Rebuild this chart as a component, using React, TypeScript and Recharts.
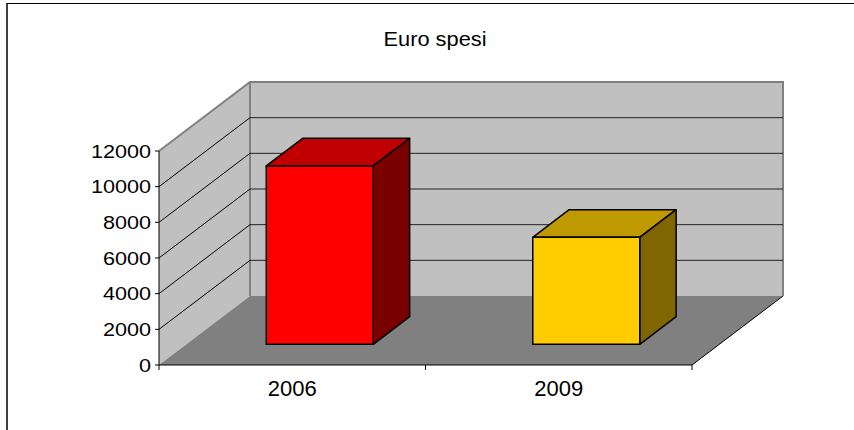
import React from 'react';
import { BarChart, Bar, XAxis, YAxis, ReferenceArea, ReferenceLine } from 'recharts';

const categories = ['2006', '2009'];
const spesi = [10000, 6000];
const yTicks = [0, 2000, 4000, 6000, 8000, 10000, 12000];
const gridValues = [2000, 4000, 6000, 8000, 10000];

const data = categories.map((anno, i) => ({ anno, spesi: spesi[i] }));

const FRONT = ['#FF0000', '#FFCC00'];
const TOP = ['#C00000', '#BF9900'];
const SIDE = ['#7A0000', '#806600'];

// depth of the 3D box (pixels)
const DX = 91;
const DY = 69;
const FONT = '"Liberation Sans", Arial, sans-serif';

const Walls = (props: any) => {
  const { x, y, width, height } = props;
  const bx = x + DX;
  const by = y - DY;
  const n = categories.length;
  return (
    <g>
      <polygon
        points={`${x},${y + height} ${x},${y} ${bx},${by} ${bx},${by + height}`}
        fill="#C0C0C0"
      />
      <rect x={bx} y={by} width={width} height={height} fill="#C0C0C0" />
      <polygon
        points={`${x},${y + height} ${x + width},${y + height} ${bx + width},${by + height} ${bx},${by + height}`}
        fill="#808080"
      />
      <polyline
        points={`${x},${y} ${bx},${by} ${bx + width},${by} ${bx + width},${by + height}`}
        fill="none"
        stroke="#808080"
        strokeWidth={2}
      />
      <line x1={bx} y1={by} x2={bx} y2={by + height} stroke="#808080" strokeWidth={2} />
      <line x1={x + width} y1={y + height} x2={bx + width} y2={by + height} stroke="#000" />
      {Array.from({ length: n + 1 }).map((_, i) => (
        <line
          key={i}
          x1={x + (i * width) / n}
          y1={y + height}
          x2={x + (i * width) / n}
          y2={y + height + 5}
          stroke="#000"
        />
      ))}
    </g>
  );
};

const GridShape = (props: any) => {
  const { x1, y1, x2 } = props;
  return (
    <g>
      <line x1={x1} y1={y1} x2={x1 + DX} y2={y1 - DY} stroke="#000" />
      <line x1={x1 + DX} y1={y1 - DY} x2={x2 + DX} y2={y1 - DY} stroke="#222" />
    </g>
  );
};

const Box = (props: any) => {
  const { x, y, width, height, index } = props;
  const fx = x + DX * 0.3;
  const fy = y - DY * 0.3;
  const dx = DX * 0.4;
  const dy = DY * 0.4;
  return (
    <g stroke="#000" strokeWidth={1.5} strokeLinejoin="round">
      <polygon
        points={`${fx},${fy} ${fx + width},${fy} ${fx + width + dx},${fy - dy} ${fx + dx},${fy - dy}`}
        fill={TOP[index % TOP.length]}
      />
      <polygon
        points={`${fx + width},${fy} ${fx + width + dx},${fy - dy} ${fx + width + dx},${fy - dy + height} ${fx + width},${fy + height}`}
        fill={SIDE[index % SIDE.length]}
      />
      <rect x={fx} y={fy} width={width} height={height} fill={FRONT[index % FRONT.length]} />
    </g>
  );
};

const YTick = (props: any) => {
  const { x, y, payload } = props;
  return (
    <text
      transform={`translate(${x},${y + 6.5}) scale(1.2,1)`}
      textAnchor="end"
      fontSize={18}
      fontFamily={FONT}
      fill="#000"
    >
      {payload.value}
    </text>
  );
};

const XTick = (props: any) => {
  const { x, y, payload } = props;
  return (
    <text x={x} y={y + 31} textAnchor="middle" fontSize={22} fontFamily={FONT} fill="#000">
      {payload.value}
    </text>
  );
};

export default function App() {
  return (
    <div
      style={{
        position: 'fixed',
        left: 0,
        top: 0,
        width: 854,
        height: 430,
        overflow: 'hidden',
        background: '#fff',
      }}
    >
      <div
        style={{
          position: 'absolute',
          left: 6,
          top: 3,
          width: 900,
          height: 500,
          borderLeft: '2px solid #404040',
          borderTop: '1px solid #000',
        }}
      />
      <div
        style={{
          position: 'absolute',
          left: 335,
          top: 29,
          width: 200,
          textAlign: 'center',
          fontFamily: FONT,
          fontSize: 20,
          lineHeight: '20px',
          transform: 'scaleX(1.09)',
        }}
      >
        Euro spesi
      </div>
      <BarChart
        width={854}
        height={430}
        data={data}
        margin={{ top: 151, right: 162, bottom: 0, left: 0 }}
        barCategoryGap="30%"
        style={{ position: 'absolute', left: 0, top: 0 }}
      >
        <XAxis
          dataKey="anno"
          height={65}
          tickLine={false}
          tickSize={0}
          tickMargin={0}
          axisLine={{ stroke: '#000' }}
          tick={<XTick />}
        />
        <YAxis
          type="number"
          domain={[0, 12000]}
          ticks={yTicks}
          width={159}
          tickSize={4}
          tickMargin={4}
          axisLine={{ stroke: '#000' }}
          tickLine={{ stroke: '#000' }}
          tick={<YTick />}
          interval={0}
        />
        <ReferenceArea y1={0} y2={12000} shape={<Walls />} zIndex={-200} ifOverflow="visible" />
        {gridValues.map((v) => (
          <ReferenceLine key={v} y={v} shape={<GridShape />} zIndex={-150} ifOverflow="visible" />
        ))}
        <Bar dataKey="spesi" shape={<Box />} isAnimationActive={false} />
      </BarChart>
    </div>
  );
}
